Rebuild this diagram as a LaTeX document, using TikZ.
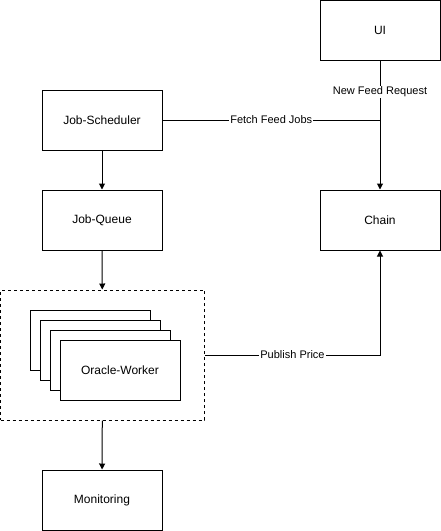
\documentclass[tikz,border=0pt]{standalone}
\usepackage{fontspec}
\setmainfont{Liberation Sans}
\usetikzlibrary{arrows.meta}

\tikzset{
    box/.style={draw, line width=1pt, fill=white, minimum width=120pt, minimum height=60pt,
        inner sep=0pt, font=\fontsize{12}{14}\selectfont},
    lbl/.style={fill=white, inner sep=1pt, font=\fontsize{11}{13}\selectfont},
    flow/.style={line width=1pt, -{Triangle[length=6pt,width=6pt]}},
}

\begin{document}
\begin{tikzpicture}[x=1pt, y=-1pt]

    \useasboundingbox (0,0) rectangle (441,531);

    % services
    \node [box] (ui) at (380,30.5) {UI};
    \node [box] (sched) at (102,120) {Job-Scheduler};
    \node [box] (queue) at (102,220) {Job-Queue};
    \node [box] (chain) at (380,220) {Chain};
    \node [box] (mon) at (102,500) {Monitoring};

    % worker pool
    \node [draw, line width=1pt, dash pattern=on 3pt off 3pt, minimum width=204pt,
        minimum height=130pt, inner sep=0pt] (pool) at (102.5,355) {};
    \node [box] (w1) at (90,340) {};
    \node [box] (w2) at (100,350) {};
    \node [box] (w3) at (110,360) {};
    \node [box] (w4) at (120,370) {Oracle-Worker};

    % connectors
    \draw [flow] (sched) -- (queue);
    \draw [flow] (queue) -- (pool);
    \draw [flow] (pool) -- (mon);
    \draw [flow] (ui) -- (chain) node [lbl, pos=0.24] {New Feed Request};

    \coordinate (join) at (sched -| chain);
    \draw [line width=1pt] (sched.east) -- (join) node [lbl, midway] {Fetch Feed Jobs};

    \draw [flow] (pool.east) -| (chain.south) node [lbl, pos=0.25] {Publish Price};

\end{tikzpicture}
\end{document}
